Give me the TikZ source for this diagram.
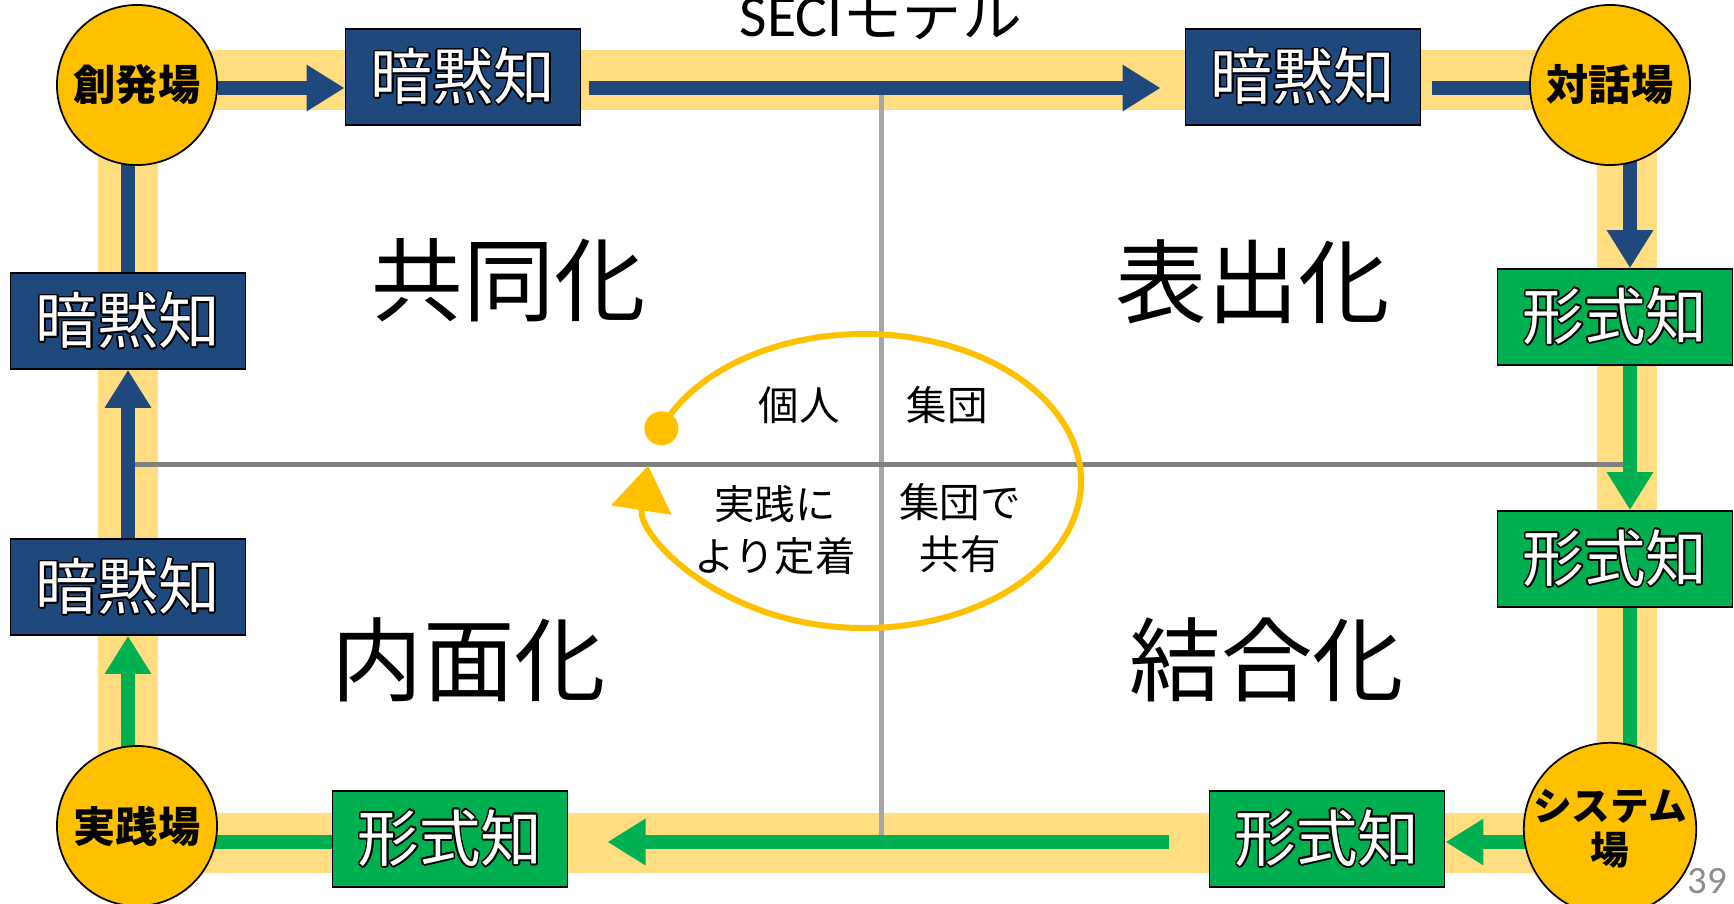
\documentclass[tikz,border=0pt]{standalone}
\usepackage{fontspec}
\setmainfont{Noto Sans CJK JP}
\newfontfamily\latinfont{Carlito}
\usepackage[copies]{contour}
\contourlength{0.45pt}
\usetikzlibrary{arrows.meta}
\pgfdeclarelayer{background}
\pgfsetlayers{background,main}
\definecolor{tacitblue}{HTML}{1F497D}
\definecolor{explgreen}{HTML}{00B050}
\definecolor{bagold}{HTML}{FFC000}
\definecolor{bandyellow}{HTML}{FFDD80}
\definecolor{axisdark}{HTML}{808080}
\definecolor{axislight}{HTML}{A6A6A6}
\definecolor{pagegray}{HTML}{8C8C8C}

\begin{document}
\begin{tikzpicture}[x=0.01cm,y=-0.01cm,
  tacitstyle/.style={rectangle,draw=black,line width=0.5pt,fill=tacitblue,text=white,minimum width=2.35cm,minimum height=0.96cm,inner sep=0pt,font=\fontsize{17.5}{20}\selectfont},
  explstyle/.style={tacitstyle,fill=explgreen},
  bastyle/.style={circle,draw=black,line width=0.5pt,fill=bagold,minimum size=1.6cm,inner sep=0pt,align=center,font=\bfseries\fontsize{12}{12.5}\selectfont},
  modestyle/.style={font=\fontsize{26}{30}\selectfont},
  notestyle/.style={align=center,font=\fontsize{11.5}{14.8}\selectfont},
  blueline/.style={draw=tacitblue,line width=0.14cm},
  greenline/.style={draw=explgreen,line width=0.14cm},
  bluearrow/.style={blueline,-{Triangle[length=0.38cm,width=0.44cm]}},
  greenarrow/.style={greenline,-{Triangle[length=0.38cm,width=0.44cm]}}]
\useasboundingbox (0,0) rectangle (1734,903);
\coordinate (rowT) at (0,88);
\coordinate (rowB) at (0,842);
\coordinate (colL) at (128,0);
\coordinate (colR) at (1630,0);
\coordinate (axis) at (881,464);
\coordinate (ecenter) at (864,481);

\node[anchor=base,font=\fontsize{17}{20}\selectfont] (title) at (881,37) {{\latinfont SECI}モデル};

\node[bastyle] (sohatsu) at (137,85) {創発場};
\node[bastyle] (taiwa) at (1610,85) {対話場};
\node[bastyle] (jissen) at (137,826) {実践場};
\node[bastyle,font=\bfseries\fontsize{11}{12.5}\selectfont] (system) at (1610,829) {システム\\場};

\node[tacitstyle] (tk1) at (463,77) {\contour{black}{暗黙知}};
\node[tacitstyle] (tk2) at (1303,77) {\contour{black}{暗黙知}};
\node[tacitstyle] (tk3) at (128,321) {\contour{black}{暗黙知}};
\node[tacitstyle] (tk4) at (128,587) {\contour{black}{暗黙知}};
\node[explstyle] (ex1) at (1615,317) {\contour{black}{形式知}};
\node[explstyle] (ex2) at (1615,559) {\contour{black}{形式知}};
\node[explstyle] (ex3) at (1327,839) {\contour{black}{形式知}};
\node[explstyle] (ex4) at (450,839) {\contour{black}{形式知}};

\node[modestyle] (kyodo) at (509,280) {共同化};
\node[modestyle] (hyoshutsu) at (1253,282) {表出化};
\node[modestyle] (naimen) at (469,660) {内面化};
\node[modestyle] (ketsugo) at (1267,660) {結合化};

\node[notestyle] (kojin) at (799,405) {個人};
\node[notestyle] (shudan) at (947,405) {集団};
\node[notestyle] (teichaku) at (775,530) {実践に\\より定着};
\node[notestyle] (kyoyu) at (960,528) {集団で\\共有};

\node[text=pagegray,font=\latinfont\fontsize{11}{13}\selectfont] (pageno) at (1707,881) {39};

\begin{pgfonlayer}{background}
\draw[bandyellow,line width=0.6cm] (128,80) rectangle (1627,843);
\draw[axislight,line width=0.05cm] (axis |- rowT) -- (axis |- rowB);
\draw[axisdark,line width=0.05cm] (axis -| colL) -- (axis -| colR);
% tacit side
\draw[bluearrow] (sohatsu.east |- rowT) -- (tk1.west |- rowT);
\draw[bluearrow,shorten <=0.08cm,shorten >=0.24cm] (tk1.east |- rowT) -- (tk2.west |- rowT);
\draw[blueline,shorten <=0.11cm] (tk2.east |- rowT) -- (taiwa.center |- rowT);
\draw[bluearrow] (taiwa.center -| colR) -- (ex1.north -| colR);
% explicit side
\draw[greenarrow] (ex1.south -| colR) -- (ex2.north -| colR);
\draw[greenline] (ex2.south -| colR) -- (system.center -| colR);
\draw[greenarrow] (system.center |- rowB) -- (ex3.east |- rowB);
\draw[greenarrow,shorten <=0.4cm,shorten >=0.39cm] (ex3.west |- rowB) -- (ex4.east |- rowB);
\draw[greenline] (ex4.west |- rowB) -- (jissen.center |- rowB);
\draw[greenarrow] (jissen.center -| colL) -- (tk4.south -| colL);
\draw[bluearrow] (tk4.north -| colL) -- (tk3.south -| colL);
\draw[blueline] (tk3.north -| colL) -- (sohatsu.center -| colL);
% cycle
\path (ecenter) ++(201:217 and 147) coordinate (edot);
\draw[bagold,line width=0.06cm,-{Triangle[length=0.45cm,width=0.6cm]}] (edot) arc[start angle=201,end angle=546,x radius=217,y radius=147];
\fill[bagold] (edot) circle[radius=17];
\end{pgfonlayer}
\end{tikzpicture}
\end{document}
